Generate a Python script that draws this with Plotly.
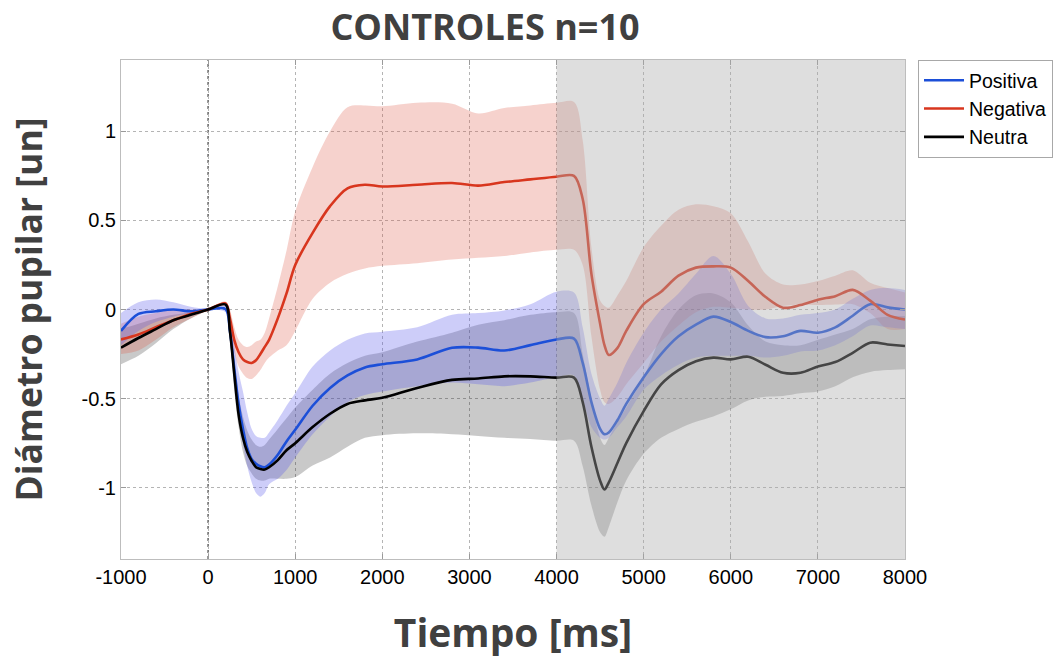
import plotly.graph_objects as go

# ---------------- data ----------------
tiempo = [-1000, -800, -600, -400, -200, 0, 200, 250, 300, 350, 400, 450, 500, 550, 600, 650, 700,
          800, 900, 1000, 1200, 1400, 1600, 1800, 2000, 2400, 2800, 3100, 3400, 3700, 4000, 4200,
          4300, 4400, 4500, 4550, 4600, 4700, 4800, 5000, 5200, 5400, 5600, 5800, 6000, 6200, 6400,
          6600, 6800, 7000, 7200, 7400, 7600, 7800, 8000]

positiva = [-0.12, -0.025, -0.01, 0.0, -0.01, 0.0, 0.003, -0.12, -0.33, -0.53, -0.67, -0.78, -0.84,
            -0.865, -0.88, -0.885, -0.87, -0.815, -0.74, -0.675, -0.54, -0.44, -0.37, -0.325, -0.307,
            -0.28, -0.215, -0.214, -0.23, -0.2, -0.168, -0.163, -0.3, -0.52, -0.67, -0.70, -0.69,
            -0.62, -0.53, -0.38, -0.25, -0.15, -0.085, -0.04, -0.07, -0.12, -0.155, -0.15, -0.12,
            -0.13, -0.1, -0.035, 0.03, 0.012, 0.0]
positiva_sup = [-0.02, 0.04, 0.056, 0.04, 0.015, 0.005, 0.02, -0.05, -0.2, -0.35, -0.46, -0.58, -0.67,
                -0.71, -0.72, -0.72, -0.69, -0.62, -0.54, -0.47, -0.32, -0.23, -0.17, -0.135, -0.125,
                -0.10, -0.03, -0.02, -0.005, 0.03, 0.10, 0.095, -0.1, -0.36, -0.5, -0.54, -0.5, -0.41,
                -0.3, -0.13, 0.0, 0.09, 0.2, 0.30, 0.2, 0.02, -0.05, -0.05, -0.03, -0.02, 0.0, 0.06,
                0.11, 0.12, 0.11]
positiva_inf = [-0.2, -0.12, -0.07, -0.04, -0.02, -0.005, -0.015, -0.15, -0.42, -0.6, -0.75, -0.88,
                -0.97, -1.03, -1.05, -1.03, -0.98, -0.95, -0.9, -0.83, -0.7, -0.6, -0.52, -0.48, -0.46,
                -0.43, -0.41, -0.42, -0.43, -0.41, -0.38, -0.37, -0.5, -0.66, -0.72, -0.73, -0.72,
                -0.66, -0.6, -0.45, -0.37, -0.31, -0.27, -0.26, -0.26, -0.26, -0.27, -0.26, -0.235,
                -0.23, -0.2, -0.15, -0.09, -0.1, -0.11]

negativa = [-0.168, -0.14, -0.1, -0.06, -0.025, 0.0, 0.034, -0.05, -0.17, -0.24, -0.28, -0.295, -0.30,
            -0.285, -0.25, -0.21, -0.17, -0.05, 0.09, 0.25, 0.43, 0.58, 0.68, 0.70, 0.69, 0.70, 0.71,
            0.695, 0.715, 0.73, 0.745, 0.75, 0.62, 0.2, -0.08, -0.2, -0.255, -0.215, -0.12, 0.03, 0.1,
            0.19, 0.235, 0.242, 0.235, 0.16, 0.07, 0.01, 0.025, 0.055, 0.075, 0.11, 0.05, -0.03, -0.056]
negativa_sup = [-0.08, -0.04, -0.02, 0.0, 0.0, 0.005, 0.045, 0.0, -0.1, -0.17, -0.2, -0.21, -0.2,
                -0.18, -0.17, -0.13, -0.05, 0.13, 0.33, 0.55, 0.8, 1.0, 1.135, 1.145, 1.14, 1.16, 1.155,
                1.1, 1.13, 1.145, 1.16, 1.165, 0.95, 0.35, 0.05, 0.02, 0.01, 0.08, 0.16, 0.35, 0.47,
                0.56, 0.59, 0.58, 0.54, 0.38, 0.2, 0.14, 0.14, 0.16, 0.19, 0.22, 0.15, 0.12, 0.095]
negativa_inf = [-0.25, -0.23, -0.17, -0.1, -0.05, -0.005, 0.02, -0.1, -0.24, -0.32, -0.36, -0.385,
                -0.39, -0.37, -0.34, -0.3, -0.27, -0.23, -0.2, -0.12, 0.06, 0.15, 0.2, 0.23, 0.245,
                0.26, 0.28, 0.29, 0.3, 0.32, 0.335, 0.335, 0.25, -0.15, -0.45, -0.52, -0.53, -0.49,
                -0.42, -0.3, -0.18, -0.09, -0.015, 0.015, 0.01, 0.0, 0.0, 0.02, 0.028, 0.025, 0.028,
                0.03, -0.02, -0.11, -0.11]

neutra = [-0.214, -0.16, -0.11, -0.06, -0.03, 0.0, 0.028, -0.12, -0.36, -0.59, -0.72, -0.8, -0.85,
          -0.885, -0.895, -0.898, -0.885, -0.845, -0.79, -0.75, -0.66, -0.585, -0.53, -0.51, -0.495,
          -0.44, -0.395, -0.387, -0.375, -0.375, -0.382, -0.382, -0.52, -0.77, -0.96, -1.01, -0.97,
          -0.86, -0.75, -0.57, -0.42, -0.34, -0.29, -0.27, -0.28, -0.265, -0.31, -0.355, -0.355,
          -0.32, -0.295, -0.243, -0.186, -0.196, -0.205]
neutra_sup = [-0.11, -0.08, -0.05, -0.03, -0.015, 0.0, 0.04, -0.07, -0.28, -0.48, -0.6, -0.68, -0.73,
              -0.76, -0.77, -0.76, -0.73, -0.67, -0.61, -0.55, -0.45, -0.36, -0.3, -0.26, -0.24, -0.18,
              -0.13, -0.085, -0.06, -0.03, -0.015, -0.02, -0.25, -0.5, -0.72, -0.76, -0.72, -0.63,
              -0.55, -0.38, -0.15, 0.0, 0.08, 0.09, 0.04, -0.09, -0.18, -0.2, -0.2, -0.17, -0.14,
              -0.11, -0.055, -0.04, -0.037]
neutra_inf = [-0.307, -0.26, -0.19, -0.11, -0.05, -0.005, 0.015, -0.17, -0.45, -0.66, -0.8, -0.88,
              -0.92, -0.95, -0.96, -0.96, -0.95, -0.95, -0.95, -0.94, -0.875, -0.83, -0.77, -0.72,
              -0.705, -0.695, -0.7, -0.71, -0.72, -0.726, -0.736, -0.736, -0.88, -1.1, -1.25, -1.275,
              -1.22, -1.08, -0.96, -0.81, -0.72, -0.67, -0.63, -0.6, -0.56, -0.51, -0.49, -0.485,
              -0.47, -0.46, -0.43, -0.38, -0.35, -0.34, -0.335]

x_ticks = [-1000, 0, 1000, 2000, 3000, 4000, 5000, 6000, 7000, 8000]
x_ticklabels = ["-1000", "0", "1000", "2000", "3000", "4000", "5000", "6000", "7000", "8000"]
y_ticks = [-1, -0.5, 0, 0.5, 1]
y_ticklabels = ["-1", "-0.5", "0", "0.5", "1"]

series = [
    ("Positiva", positiva, positiva_sup, positiva_inf, "#1c4fd8", "rgba(90,90,235,0.30)"),
    ("Negativa", negativa, negativa_sup, negativa_inf, "#d8361e", "rgba(220,80,60,0.26)"),
    ("Neutra", neutra, neutra_sup, neutra_inf, "#000000", "rgba(0,0,0,0.21)"),
]

SM = 0.9
fig = go.Figure()

# confidence bands
for name, m, hi, lo, col, fill in series[::-1]:
    fig.add_trace(go.Scatter(x=tiempo, y=hi, mode="lines", line=dict(width=0, shape="spline", smoothing=SM),
                             showlegend=False, hoverinfo="skip"))
    fig.add_trace(go.Scatter(x=tiempo, y=lo, mode="lines", line=dict(width=0, shape="spline", smoothing=SM),
                             fill="tonexty", fillcolor=fill, showlegend=False, hoverinfo="skip"))

# mean lines
for name, m, hi, lo, col, fill in series:
    fig.add_trace(go.Scatter(x=tiempo, y=m, mode="lines", name=name,
                             line=dict(color=col, width=2.6, shape="spline", smoothing=SM)))

axis_common = dict(
    showgrid=True, gridcolor="#b4b4b4", griddash="dot", gridwidth=1,
    zeroline=False, showline=True, linecolor="#bdbdbd", linewidth=1, mirror="ticks",
    ticks="inside", ticklen=5, tickcolor="#9a9a9a",
    tickfont=dict(family="Liberation Sans, Arial, sans-serif", size=20, color="#000000"),
)

fig.update_layout(
    width=1063, height=663,
    margin=dict(l=121, r=158, t=60, b=104, autoexpand=False),
    paper_bgcolor="white", plot_bgcolor="white",
    title=dict(text="CONTROLES n=10", x=485 / 1063, xref="container", xanchor="center",
               y=1 - 27 / 663, yref="container", yanchor="middle",
               font=dict(family="Open Sans", size=36, weight=700, color="#404040")),
    xaxis=dict(range=[-1000, 8000], tickvals=x_ticks, ticktext=x_ticklabels,
               title=dict(text="Tiempo [ms]", standoff=32,
                          font=dict(family="Open Sans", size=39, weight=700, color="#404040")),
               **axis_common),
    yaxis=dict(range=[-1.4, 1.4], tickvals=y_ticks, ticktext=y_ticklabels,
               title=dict(text="Diámetro pupilar [un]", standoff=28,
                          font=dict(family="Open Sans", size=35.5, weight=700, color="#404040")),
               **axis_common),
    legend=dict(x=918 / 1063, y=1 - 60 / 663, xref="container", yref="container",
                xanchor="left", yanchor="top",
                bgcolor="white", bordercolor="#a8a8a8", borderwidth=1,
                font=dict(family="Liberation Sans, Arial, sans-serif", size=19.5, color="#000000"),
                traceorder="normal", tracegroupgap=0, itemwidth=40),
    showlegend=True,
)

# x = 0 marker line
fig.add_shape(type="line", xref="x", yref="paper", x0=0, x1=0, y0=0, y1=1,
              line=dict(color="#6e6e6e", width=1.6, dash="dot"), layer="below")
# shaded post-stimulus window
fig.add_shape(type="rect", xref="x", yref="paper", x0=4000, x1=8000, y0=0, y1=1,
              fillcolor="rgba(173,173,173,0.40)", line=dict(width=0), layer="above")

fig.write_html("out.html")
